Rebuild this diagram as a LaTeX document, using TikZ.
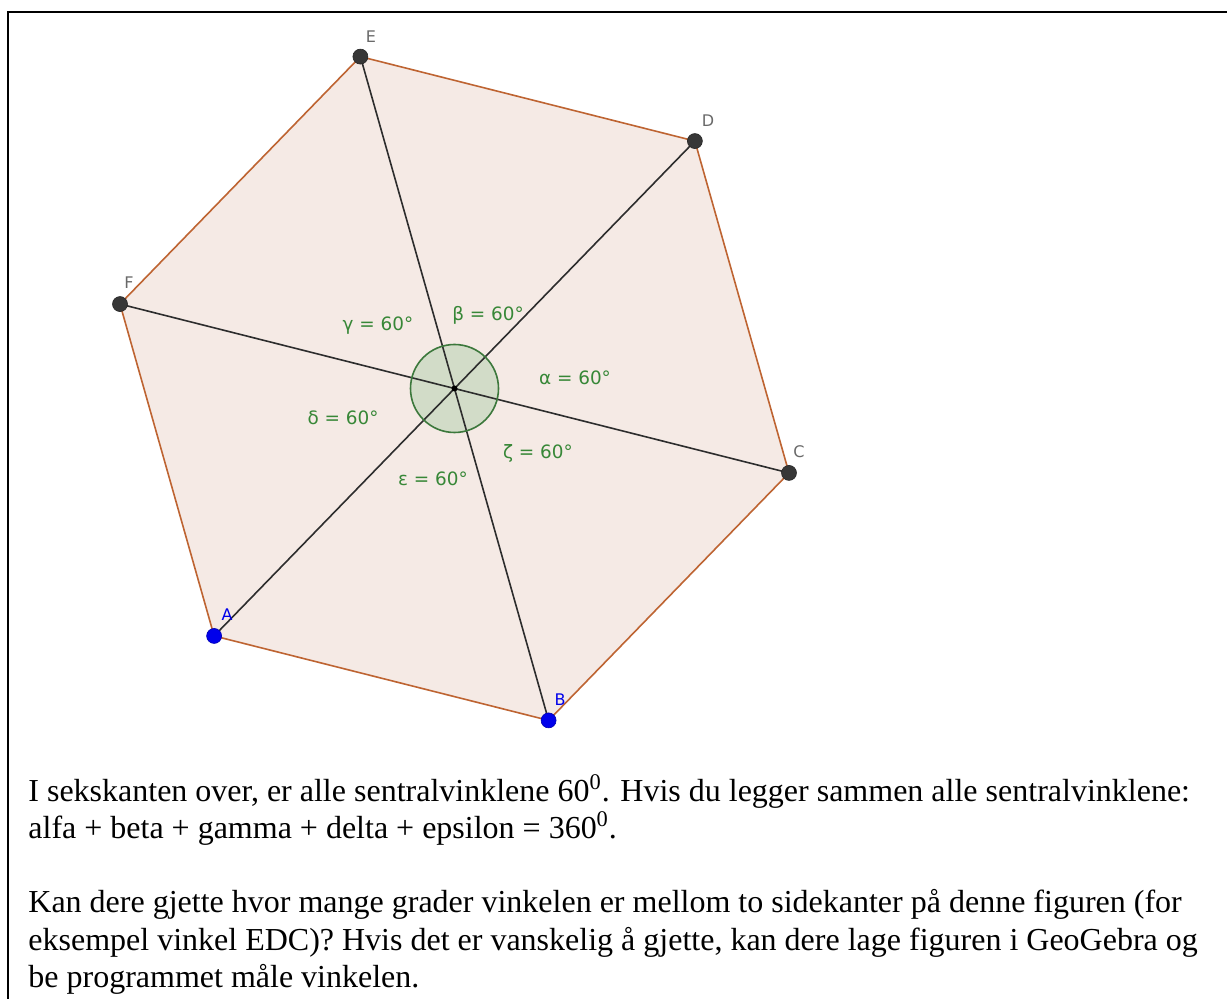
\documentclass[tikz,border=0pt]{standalone}
\usepackage{fontspec}
\setmainfont{Liberation Serif}
\newfontfamily\ggb{DejaVu Sans}
\usetikzlibrary{calc}
\definecolor{edgec}{RGB}{190,100,50}
\definecolor{hexfill}{RGB}{245,234,229}
\definecolor{diagc}{RGB}{45,45,45}
\definecolor{angfill}{RGB}{210,220,200}
\definecolor{angline}{RGB}{60,120,60}
\definecolor{anglab}{RGB}{55,135,55}
\definecolor{ptdark}{RGB}{55,55,55}
\definecolor{ptblue}{RGB}{0,0,235}
\definecolor{lblgray}{RGB}{105,105,105}
\tikzset{
  ptd/.style={circle, fill=ptdark, draw=black!85, line width=0.3pt, inner sep=0pt, minimum size=7.5pt},
  ptb/.style={circle, fill=ptblue, draw=blue!70!black, line width=0.3pt, inner sep=0pt, minimum size=7.5pt},
  vlab/.style={font=\ggb\fontsize{8}{9}\selectfont, text=lblgray, inner sep=0pt},
  vlabb/.style={font=\ggb\fontsize{8}{9}\selectfont, text=ptblue, inner sep=0pt},
  alab/.style={font=\ggb\fontsize{9.2}{11}\selectfont, text=anglab, inner sep=0pt},
  txt/.style={font=\fontsize{16}{18.5}\selectfont, inner sep=0pt, anchor=base west},
  side/.style={draw=edgec, line width=0.8pt},
  diag/.style={draw=diagc, line width=0.8pt}
}
\begin{document}
\begin{tikzpicture}[x=0.5pt,y=-0.5pt]
\useasboundingbox (0,0) rectangle (1227,999);
\fill[white] (0,0) rectangle (1227,999);
% frame
\draw[line width=1pt, black] (8,999) -- (8,12) -- (1227,12);
% vertices
\coordinate (O) at (454.5,388.5);
\coordinate (D) at ($(O)+(-45.83:345)$);
\coordinate (E) at ($(O)+(-105.83:345)$);
\coordinate (F) at ($(O)+(-165.83:345)$);
\coordinate (A) at ($(O)+(-225.83:345)$);
\coordinate (B) at ($(O)+(-285.83:345)$);
\coordinate (C) at ($(O)+(-345.83:345)$);
% polygon fill
\fill[hexfill] (A) -- (B) -- (C) -- (D) -- (E) -- (F) -- cycle;
% angle disc
\fill[angfill] (O) circle[radius=44];
% diagonals
\draw[diag] (A) -- (D);
\draw[diag] (B) -- (E);
\draw[diag] (C) -- (F);
\draw[angline, line width=0.8pt] (O) circle[radius=44];
% sides
\draw[side] (A) -- (B) -- (C) -- (D) -- (E) -- (F) -- cycle;
% points
\node[circle, fill=black, inner sep=0pt, minimum size=3pt] (Odot) at (O) {};
\node[ptd] (Edot) at (E) {};
\node[ptd] (Ddot) at (D) {};
\node[ptd] (Cdot) at (C) {};
\node[ptd] (Fdot) at (F) {};
\node[ptb] (Adot) at (A) {};
\node[ptb] (Bdot) at (B) {};
% vertex labels
\node[vlab] (El) at (371,37) {E};
\node[vlab] (Dl) at (708,121) {D};
\node[vlab] (Cl) at (799,452) {C};
\node[vlab] (Fl) at (129,283) {F};
\node[vlabb] (Al) at (227,615) {A};
\node[vlabb] (Bl) at (560,700) {B};
% angle labels
\node[alab] (al) at (575,378) {α = 60°};
\node[alab] (be) at (488,315) {β = 60°};
\node[alab] (ga) at (378,326) {γ = 60°};
\node[alab] (de) at (343,418) {δ = 60°};
\node[alab] (ep) at (433,479) {ε = 60°};
\node[alab] (ze) at (538,453) {ζ = 60°};
% text
\node[txt] (t1) at (28,802) {I sekskanten over, er alle sentralvinklene 60\textsuperscript{0}. Hvis du legger sammen alle sentralvinklene:};
\node[txt] (t2) at (28,839) {alfa + beta + gamma + delta + epsilon = 360\textsuperscript{0}.};
\node[txt] (t3) at (28,913) {Kan dere gjette hvor mange grader vinkelen er mellom to sidekanter på denne figuren (for};
\node[txt] (t4) at (28,950) {eksempel vinkel EDC)? Hvis det er vanskelig å gjette, kan dere lage figuren i GeoGebra og};
\node[txt] (t5) at (28,987) {be programmet måle vinkelen.};
\end{tikzpicture}
\end{document}
